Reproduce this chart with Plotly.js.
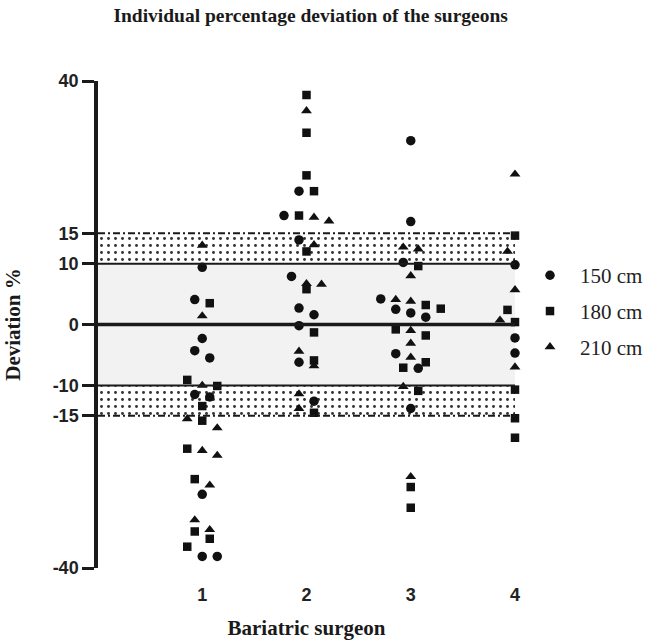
<!DOCTYPE html>
<html>
<head>
<meta charset="utf-8">
<script src="https://cdn.plot.ly/plotly-3.0.1.min.js"></script>
<style>html,body{margin:0;padding:0;background:#fff;}</style>
</head>
<body>
<div id="chart" style="width:650px;height:640px;"></div>
<script>
// ---- data (deviation %, per surgeon 1..4) ----
const surgeonLabels = ['1', '2', '3', '4'];
const seriesNames = ['150 cm', '180 cm', '210 cm'];

const dev150 = [
  [9.4, 4.1, -2.3, -4.3, -5.5, -11.5, -11.9, -27.9, -38.1, -38.1],
  [21.9, 17.9, 13.9, 7.9, 2.7, 1.6, -0.2, -6.2, -12.6],
  [30.2, 16.9, 10.2, 4.2, 2.5, 1.9, 1.2, -4.8, -7.2, -13.8],
  [10.6, 9.8, -0.4, -2.2, -4.7]
];
const dev180 = [
  [3.5, -9.1, -10.1, -13.4, -15.8, -20.4, -25.4, -34.0, -35.2, -36.5],
  [37.7, 31.5, 24.5, 21.9, 17.9, 12.0, 5.8, -1.3, -5.9, -14.5],
  [9.6, 3.2, 2.6, -0.8, -1.8, -6.2, -7.1, -10.9, -26.7, -30.1],
  [14.6, 2.4, 1.6, 0.4, -10.7, -15.4, -18.6]
];
const dev210 = [
  [13.0, 1.4, -10.0, -15.5, -17.0, -20.7, -21.5, -26.4, -32.1, -33.7],
  [35.1, 17.6, 17.0, 13.1, 6.7, 6.6, -4.4, -6.8, -11.4, -13.8],
  [12.7, 12.4, 8.0, 4.1, 3.8, -1.0, -3.1, -5.4, -10.2, -25.0],
  [24.7, 12.0, 5.7, 0.7, -7.0]
];

const yTickVals = [-40, -15, -10, 0, 10, 15, 40];
const yTickText = ['-40', '-15', '-10', '0', '10', '15', '40'];
const innerLimit = 10;
const outerLimit = 15;

// ---- deterministic beeswarm spreading (like a column scatter) ----
const allSeries = [dev150, dev180, dev210];
const xRange = [0, surgeonLabels.length];
const plotW = 417, plotH = 487;
const slotX = 15 * (xRange[1] - xRange[0]) / plotW;   // horizontal slot in x units
const rowTol = 10 * 80 / plotH;                         // vertical tolerance in y units

const xs = allSeries.map(s => s.map(arr => arr.map(() => 0)));
surgeonLabels.forEach((lab, g) => {
  const pts = [];
  allSeries.forEach((s, si) => s[g].forEach((v, i) => pts.push({si, i, v})));
  pts.sort((a, b) => b.v - a.v || a.si - b.si);
  const rows = [];
  pts.forEach(p => {
    const row = rows[rows.length - 1];
    if (row && row[0].v - p.v <= rowTol) row.push(p); else rows.push([p]);
  });
  rows.forEach(row => {
    const n = row.length;
    row.forEach((p, k) => {
      xs[p.si][g][p.i] = (g + 1) + (k - (n - 1) / 2) * slotX;
    });
  });
});

const symbols = ['circle', 'square', 'triangle-up'];
const sizes = [9.5, 8.5, 9.5];
const serif = 'Liberation Serif, Times New Roman, serif';
const sans = 'Liberation Sans, Arial, sans-serif';

const traces = [];
// dotted tolerance bands (10..15 and -15..-10)
traces.push({
  type: 'bar',
  x: [2, 2],
  y: [outerLimit - innerLimit, outerLimit - innerLimit],
  base: [innerLimit, -outerLimit],
  width: [4, 4],
  marker: {
    color: 'white',
    line: {width: 0},
    pattern: {shape: '.', size: 7, solidity: 0.14, fgcolor: '#333', bgcolor: 'white', fillmode: 'replace'}
  },
  showlegend: false,
  hoverinfo: 'skip'
});

allSeries.forEach((s, si) => {
  const x = [], y = [];
  s.forEach((arr, g) => arr.forEach((v, i) => { x.push(xs[si][g][i]); y.push(v); }));
  traces.push({
    type: 'scatter',
    mode: 'markers',
    name: seriesNames[si],
    legendgroup: 'g' + si,
    x, y,
    cliponaxis: false,
    marker: {symbol: symbols[si], size: sizes[si], color: '#111', line: {width: 0}}
  });
});

const hline = (yv, w, dash) => ({
  type: 'line', xref: 'x', yref: 'y', x0: 0, x1: 4, y0: yv, y1: yv,
  line: {color: '#1a1a1a', width: w, dash: dash || 'solid'}, layer: 'above'
});

const layout = {
  width: 650, height: 640,
  margin: {l: 98, r: 135, t: 81, b: 72, autoexpand: false},
  paper_bgcolor: 'white', plot_bgcolor: 'white',
  barmode: 'overlay',
  title: {
    text: 'Individual percentage deviation of the surgeons',
    font: {family: serif, size: 19.5, weight: 'bold', color: '#1a1a1a'},
    x: 0.51, xref: 'paper', xanchor: 'center',
    y: 0.977, yref: 'container', yanchor: 'middle'
  },
  xaxis: {
    range: xRange, tickvals: [1, 2, 3, 4], ticktext: surgeonLabels,
    showline: false, zeroline: false, showgrid: false,
    ticks: 'outside', ticklen: 10, tickcolor: 'rgba(0,0,0,0)',
    tickfont: {family: sans, size: 18, weight: 'bold', color: '#222'},
    title: {text: 'Bariatric surgeon', font: {family: serif, size: 21, weight: 'bold', color: '#1a1a1a'}, standoff: 16}
  },
  yaxis: {
    range: [-40, 40], tickvals: yTickVals, ticktext: yTickText,
    showline: true, linewidth: 3.5, linecolor: '#1a1a1a',
    ticks: 'outside', ticklen: 12, tickwidth: 3, tickcolor: '#1a1a1a',
    showgrid: false, zeroline: false,
    tickfont: {family: sans, size: 18, weight: 'bold', color: '#222'},
    title: {text: 'Deviation %', font: {family: serif, size: 21, weight: 'bold', color: '#1a1a1a'}, standoff: 27}
  },
  legend: {
    x: 1.012, xanchor: 'left', y: 0.6425, yanchor: 'top',
    font: {family: serif, size: 21, color: '#222'},
    itemwidth: 50, tracegroupgap: 5.5, bgcolor: 'rgba(0,0,0,0)'
  },
  shapes: [
    {type: 'rect', xref: 'x', yref: 'y', x0: 0, x1: 4, y0: -innerLimit, y1: innerLimit,
     fillcolor: '#f2f2f2', line: {width: 0}, layer: 'below'},
    hline(innerLimit, 2),
    hline(-innerLimit, 2),
    hline(0, 3.5),
    hline(outerLimit, 2, '7px,3px,2px,3px'),
    hline(-outerLimit, 2, '7px,3px,2px,3px')
  ]
};

Plotly.newPlot('chart', traces, layout, {displayModeBar: false, responsive: false});
</script>
</body>
</html>
